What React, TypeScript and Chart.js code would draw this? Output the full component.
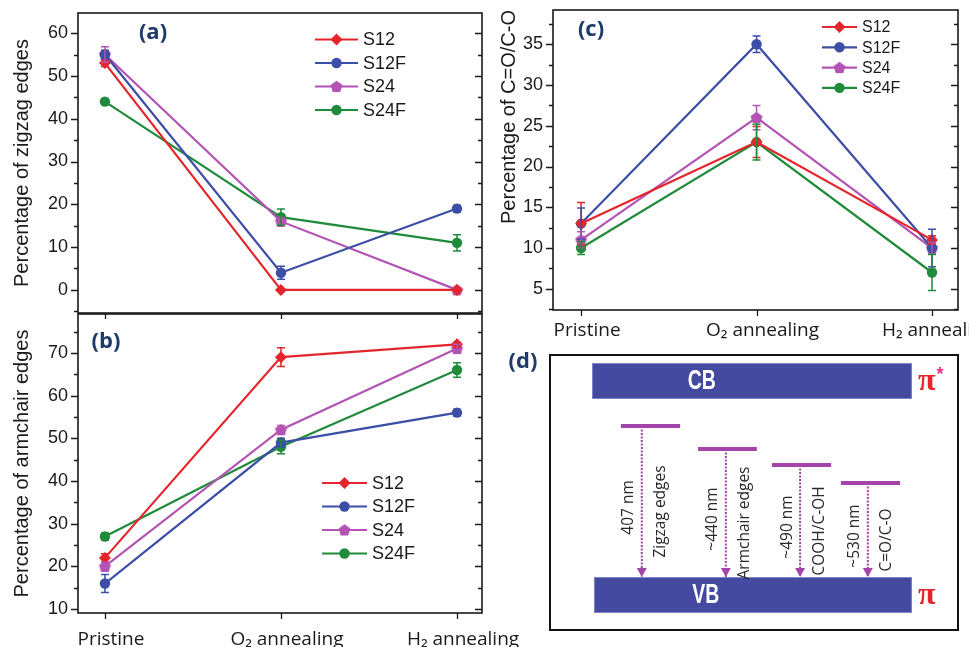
import React, { useEffect, useRef } from 'react';
import { Chart, registerables } from 'chart.js';

Chart.register(...registerables);

// ---------------- data ----------------
const categories = ['Pristine', 'O₂ annealing', 'H₂ annealing'];
const seriesNames = ['S12', 'S12F', 'S24', 'S24F'];
const seriesColors = ['#e4262c', '#3d4ea6', '#b353b3', '#1f8b3b'];
const seriesMarkers = ['diamond', 'circle', 'pentagon', 'circle'];

// (a) zigzag edges (%)
const zigzagS12 = [53, 0, 0];
const zigzagS12F = [55, 4, 19];
const zigzagS24 = [55, 16, 0];
const zigzagS24F = [44, 17, 11];
const zigzagErrS12 = [0.8, 0, 0];
const zigzagErrS12F = [1, 1.5, 0.8];
const zigzagErrS24 = [1.8, 0.8, 0];
const zigzagErrS24F = [0.5, 1.9, 1.9];

// (b) armchair edges (%)
const armchairS12 = [22, 69, 72];
const armchairS12F = [16, 49, 56];
const armchairS24 = [20, 52, 71];
const armchairS24F = [27, 48, 66];
const armchairErrS12 = [1, 2.2, 0.5];
const armchairErrS12F = [2.1, 1, 0.8];
const armchairErrS24 = [1, 1, 1];
const armchairErrS24F = [0.8, 1.6, 1.7];

// (c) C=O/C-O (%)
const oxygenS12 = [13, 23, 11];
const oxygenS12F = [13, 35, 10];
const oxygenS24 = [11, 26, 10];
const oxygenS24F = [10, 23, 7];
const oxygenErrS12 = [2.6, 1.9, 0.5];
const oxygenErrS12F = [1.9, 1, 2.3];
const oxygenErrS24 = [1, 1.5, 0.7];
const oxygenErrS24F = [0.8, 2.2, 2.2];

// axis ranges
const zigzagRange = [-5.4, 64.7];
const armchairRange = [9.1, 79.1];
const oxygenRange = [2.4, 39.2];

// (d) energy diagram
const bandNames = ['CB', 'VB'];
const bandOrbitals = ['π*', 'π'];
const bandBottom = [3.56, -0.72];
const bandTop = [4.28, 0];
const bandLeft = [1.03, 1.08];
const bandRight = [8.87, 8.87];
const bandLabelX = [3.72, 3.82];
const emissionWavelengths = ['407 nm', '~440 nm', '~490 nm', '~530 nm'];
const emissionOrigins = ['Zigzag edges', 'Armchair edges', 'COOH/C-OH', 'C=O/C-O'];
const levelEnergies = [3.02, 2.56, 2.24, 1.88];
const levelStart = [1.74, 3.63, 5.44, 7.13];
const levelEnd = [3.19, 5.07, 6.89, 8.58];
const transitionX = [2.25, 4.31, 6.13, 7.79];

// ---------------- styling ----------------
const INK = '#1a1a1a';
const LABEL_BLUE = '#1d3a6b';
const LEVEL_COLOR = '#a443aa';
const BAND_COLOR = '#434a9f';
const PI_RED = '#e3262b';

function makePentagon(color: string, r: number) {
  const size = Math.ceil(r * 2 + 2);
  const c = document.createElement('canvas');
  c.width = size;
  c.height = size;
  const ctx = c.getContext('2d')!;
  ctx.fillStyle = color;
  ctx.beginPath();
  for (let k = 0; k < 5; k++) {
    const a = -Math.PI / 2 + (k * 2 * Math.PI) / 5;
    const px = size / 2 + r * Math.cos(a);
    const py = size / 2 + 0.5 + r * Math.sin(a);
    if (k === 0) ctx.moveTo(px, py);
    else ctx.lineTo(px, py);
  }
  ctx.closePath();
  ctx.fill();
  return c;
}

function drawMarker(ctx: CanvasRenderingContext2D, kind: string, x: number, y: number, color: string, img: any) {
  if (kind === 'pentagon') {
    ctx.drawImage(img, x - img.width / 2, y - img.height / 2);
    return;
  }
  ctx.fillStyle = color;
  ctx.beginPath();
  if (kind === 'diamond') {
    const r = 6;
    ctx.moveTo(x, y - r);
    ctx.lineTo(x + r, y);
    ctx.lineTo(x, y + r);
    ctx.lineTo(x - r, y);
    ctx.closePath();
  } else {
    ctx.arc(x, y, 5.2, 0, Math.PI * 2);
  }
  ctx.fill();
}

type PanelSpec = {
  values: number[][];
  errors: number[][];
  range: number[];
  step: number;
  yTitle: string;
  titleAlign: string;
  titlePad: number;
  showX: boolean;
  xMin: number;
  xMax: number;
  padTop: number;
  padRight: number;
  yWidth: number;
  xHeight: number;
  xPad: number;
  legend: { x: number; y: number; dy: number; len: number; size: number };
  label: { text: string; x: number; y: number };
};

function framePlugin(spec: PanelSpec, pent: any) {
  return {
    id: 'frame',
    afterDatasetsDraw(chart: any) {
      const ctx: CanvasRenderingContext2D = chart.ctx;
      const { left, right, top, bottom } = chart.chartArea;
      const xs = chart.scales.x;
      const ys = chart.scales.y;
      ctx.save();
      // error bars
      spec.errors.forEach((errs, di) => {
        ctx.strokeStyle = seriesColors[di];
        ctx.lineWidth = 1.5;
        errs.forEach((e, j) => {
          if (!e) return;
          const v = spec.values[di][j];
          const x = xs.getPixelForValue(j);
          const y1 = ys.getPixelForValue(v + e);
          const y2 = ys.getPixelForValue(v - e);
          ctx.beginPath();
          ctx.moveTo(x, y1);
          ctx.lineTo(x, y2);
          ctx.moveTo(x - 4, y1);
          ctx.lineTo(x + 4, y1);
          ctx.moveTo(x - 4, y2);
          ctx.lineTo(x + 4, y2);
          ctx.stroke();
        });
      });
      // frame box
      ctx.strokeStyle = INK;
      ctx.lineWidth = 1.6;
      ctx.strokeRect(left, top, right - left, bottom - top);
      // y ticks major + minor, left outward, right inward
      ctx.lineWidth = 1.3;
      const half = spec.step / 2;
      const [mn, mx] = spec.range;
      ctx.beginPath();
      for (let v = Math.ceil(mn / half) * half; v <= mx + 1e-9; v += half) {
        const y = Math.round(ys.getPixelForValue(v)) + 0.5;
        const major = Math.abs(v / spec.step - Math.round(v / spec.step)) < 1e-6;
        const len = major ? 7 : 4;
        ctx.moveTo(left - len, y);
        ctx.lineTo(left, y);
        ctx.moveTo(right, y);
        ctx.lineTo(right - len, y);
      }
      // x ticks at categories
      for (let j = 0; j < categories.length; j++) {
        const x = Math.round(xs.getPixelForValue(j)) + 0.5;
        ctx.moveTo(x, bottom);
        ctx.lineTo(x, bottom + 6);
      }
      ctx.stroke();
      // legend
      const lg = spec.legend;
      ctx.font = `${lg.size}px "Liberation Sans", Arial, sans-serif`;
      ctx.textBaseline = 'middle';
      ctx.textAlign = 'left';
      seriesNames.forEach((name, i) => {
        const y = lg.y + i * lg.dy;
        ctx.strokeStyle = seriesColors[i];
        ctx.lineWidth = 2.2;
        ctx.beginPath();
        ctx.moveTo(lg.x, y);
        ctx.lineTo(lg.x + lg.len, y);
        ctx.stroke();
        drawMarker(ctx, seriesMarkers[i], lg.x + lg.len / 2, y, seriesColors[i], pent);
        ctx.fillStyle = INK;
        ctx.fillText(name, lg.x + lg.len + 5, y + 1);
      });
      // panel label
      ctx.font = 'bold 22px "Open Sans", sans-serif';
      ctx.fillStyle = LABEL_BLUE;
      ctx.textAlign = 'center';
      ctx.fillText(spec.label.text, spec.label.x, spec.label.y);
      ctx.restore();
    },
  };
}

function niceTicks(min: number, max: number, step: number) {
  const out: { value: number }[] = [];
  for (let v = Math.ceil(min / step - 1e-9) * step; v <= max + 1e-9; v += step) {
    out.push({ value: Math.round(v * 1000) / 1000 });
  }
  return out;
}

function makePanelConfig(spec: PanelSpec, pent: any) {
  const pointStyles: any[] = ['rectRot', 'circle', pent, 'circle'];
  const radii = [6, 5.2, 6, 5.2];
  return {
    type: 'line',
    data: {
      datasets: spec.values.map((vals, i) => ({
        label: seriesNames[i],
        data: vals.map((v, j) => ({ x: j, y: v })),
        borderColor: seriesColors[i],
        backgroundColor: seriesColors[i],
        borderWidth: 2.2,
        pointStyle: pointStyles[i],
        pointRadius: radii[i],
        pointBorderWidth: 0,
        pointBackgroundColor: seriesColors[i],
        tension: 0,
        clip: false,
      })),
    },
    options: {
      animation: false,
      responsive: false,
      events: [],
      layout: { padding: { top: spec.padTop, right: spec.padRight, left: 0, bottom: 0 } },
      plugins: { legend: { display: false }, tooltip: { enabled: false } },
      scales: {
        x: {
          type: 'linear',
          min: spec.xMin,
          max: spec.xMax,
          grid: { display: false, drawTicks: false },
          border: { display: false },
          afterBuildTicks: (s: any) => {
            s.ticks = categories.map((_, j) => ({ value: j }));
          },
          ticks: {
            display: spec.showX,
            autoSkip: false,
            maxRotation: 0,
            padding: spec.xPad,
            labelOffset: 6,
            color: INK,
            font: { family: '"Open Sans", sans-serif', size: 19 },
            callback: (v: number) => categories[v] ?? '',
          },
          afterFit: (s: any) => {
            s.height = spec.xHeight;
            s.paddingLeft = 0;
            s.paddingRight = 0;
          },
        },
        y: {
          type: 'linear',
          min: spec.range[0],
          max: spec.range[1],
          grid: { display: false, drawTicks: false },
          border: { display: false },
          afterBuildTicks: (s: any) => {
            s.ticks = niceTicks(spec.range[0], spec.range[1], spec.step);
          },
          ticks: {
            padding: 10,
            color: INK,
            font: { family: '"Liberation Sans", Arial, sans-serif', size: 18 },
            callback: (v: number) => String(v),
          },
          title: {
            display: true,
            text: spec.yTitle,
            align: spec.titleAlign,
            color: INK,
            padding: { top: spec.titlePad, bottom: 0 },
            font: { family: '"Liberation Sans", Arial, sans-serif', size: 20 },
          },
          afterFit: (s: any) => {
            s.width = spec.yWidth;
            s.paddingTop = 0;
            s.paddingBottom = 0;
          },
        },
      },
    },
    plugins: [framePlugin(spec, pent)],
  };
}

const energyPlugin = {
  id: 'energy',
  beforeDatasetsDraw(chart: any) {
    const ctx: CanvasRenderingContext2D = chart.ctx;
    const { left, right, top, bottom } = chart.chartArea;
    const xs = chart.scales.x;
    const ys = chart.scales.y;
    ctx.save();
    ctx.strokeStyle = '#111';
    ctx.lineWidth = 2;
    ctx.strokeRect(left, top, right - left, bottom - top);
    bandNames.forEach((name, i) => {
      const x1 = xs.getPixelForValue(bandLeft[i]);
      const x2 = xs.getPixelForValue(bandRight[i]);
      const y1 = ys.getPixelForValue(bandTop[i]);
      const y2 = ys.getPixelForValue(bandBottom[i]);
      ctx.fillStyle = BAND_COLOR;
      ctx.fillRect(x1, y1, x2 - x1, y2 - y1);
      ctx.strokeStyle = '#8086c8';
      ctx.lineWidth = 1;
      ctx.strokeRect(x1 + 0.5, y1 + 0.5, x2 - x1 - 1, y2 - y1 - 1);
      // band name, condensed bold
      const cx = xs.getPixelForValue(bandLabelX[i]);
      const cy = (y1 + y2) / 2;
      ctx.save();
      ctx.translate(cx, cy + 1);
      ctx.scale(0.72, 1);
      ctx.font = 'bold 27px "Liberation Sans", Arial, sans-serif';
      ctx.fillStyle = '#ffffff';
      ctx.textAlign = 'center';
      ctx.textBaseline = 'middle';
      ctx.fillText(name, 0, 0);
      ctx.restore();
      // orbital symbol
      const sym = bandOrbitals[i];
      ctx.font = 'bold 32px "Liberation Serif", "DejaVu Serif", serif';
      ctx.fillStyle = PI_RED;
      ctx.textAlign = 'left';
      ctx.textBaseline = 'middle';
      ctx.fillText(sym.charAt(0), x2 + 6, cy + 1);
      if (sym.length > 1) {
        const w = ctx.measureText(sym.charAt(0)).width;
        ctx.font = 'bold 18px "Liberation Sans", Arial, sans-serif';
        ctx.fillStyle = '#e8308a';
        ctx.fillText(sym.slice(1), x2 + 7 + w, y1 + 12);
      }
    });
    ctx.restore();
  },
  afterDatasetsDraw(chart: any) {
    const ctx: CanvasRenderingContext2D = chart.ctx;
    const { left, top } = chart.chartArea;
    const xs = chart.scales.x;
    const ys = chart.scales.y;
    ctx.save();
    const vbTop = ys.getPixelForValue(bandTop[1]);
    transitionX.forEach((tx, i) => {
      const x = xs.getPixelForValue(tx);
      // arrow head
      ctx.fillStyle = LEVEL_COLOR;
      ctx.beginPath();
      ctx.moveTo(x, vbTop);
      ctx.lineTo(x - 5, vbTop - 9);
      ctx.lineTo(x + 5, vbTop - 9);
      ctx.closePath();
      ctx.fill();
      const lvl = ys.getPixelForValue(levelEnergies[i]);
      const cy = (lvl + vbTop) / 2 + 6;
      ctx.font = '15.5px "Open Sans", sans-serif';
      ctx.fillStyle = '#2a2a2a';
      ctx.textAlign = 'center';
      ctx.textBaseline = 'middle';
      ctx.save();
      ctx.translate(x - 13, cy);
      ctx.rotate(-Math.PI / 2);
      ctx.fillText(emissionWavelengths[i], 0, 0);
      ctx.restore();
      ctx.save();
      ctx.translate(x + 19, cy + 4);
      ctx.rotate(-Math.PI / 2);
      ctx.fillText(emissionOrigins[i], 0, 0);
      ctx.restore();
    });
    ctx.font = 'bold 22px "Open Sans", sans-serif';
    ctx.fillStyle = LABEL_BLUE;
    ctx.textAlign = 'center';
    ctx.textBaseline = 'middle';
    ctx.fillText('(d)', left - 27, top + 7);
    ctx.restore();
  },
};

function makeEnergyConfig() {
  const levelSets = levelEnergies.map((e, i) => ({
    label: 'level ' + emissionOrigins[i],
    data: [
      { x: levelStart[i], y: e },
      { x: levelEnd[i], y: e },
    ],
    borderColor: LEVEL_COLOR,
    borderWidth: 4,
    pointRadius: 0,
    borderCapStyle: 'butt',
  }));
  const arrowSets = levelEnergies.map((e, i) => ({
    label: 'transition ' + emissionWavelengths[i],
    data: [
      { x: transitionX[i], y: e },
      { x: transitionX[i], y: bandTop[1] },
    ],
    borderColor: LEVEL_COLOR,
    borderWidth: 2,
    borderDash: [2, 1.5],
    pointRadius: 0,
  }));
  return {
    type: 'line',
    data: { datasets: [...levelSets, ...arrowSets] },
    options: {
      animation: false,
      responsive: false,
      events: [],
      layout: { padding: { left: 50, top: 15, right: 11, bottom: 17 } },
      plugins: { legend: { display: false }, tooltip: { enabled: false } },
      scales: {
        x: { type: 'linear', min: 0, max: 10, display: false },
        y: { type: 'linear', min: -1.06, max: 4.44, display: false },
      },
      elements: { line: { tension: 0 } },
    },
    plugins: [energyPlugin],
  };
}

export default function App() {
  const refA = useRef<HTMLCanvasElement>(null);
  const refB = useRef<HTMLCanvasElement>(null);
  const refC = useRef<HTMLCanvasElement>(null);
  const refD = useRef<HTMLCanvasElement>(null);

  useEffect(() => {
    const pent = makePentagon(seriesColors[2], 6.3);
    const specA: PanelSpec = {
      values: [zigzagS12, zigzagS12F, zigzagS24, zigzagS24F],
      errors: [zigzagErrS12, zigzagErrS12F, zigzagErrS24, zigzagErrS24F],
      range: zigzagRange,
      step: 10,
      yTitle: 'Percentage of zigzag edges',
      titleAlign: 'center',
      titlePad: 10,
      showX: false,
      xMin: -0.153,
      xMax: 2.142,
      padTop: 13,
      padRight: 18,
      yWidth: 78,
      xHeight: 7,
      xPad: 0,
      legend: { x: 315, y: 39.5, dy: 23.5, len: 43, size: 18 },
      label: { text: '(a)', x: 153, y: 33 },
    };
    const specB: PanelSpec = {
      values: [armchairS12, armchairS12F, armchairS24, armchairS24F],
      errors: [armchairErrS12, armchairErrS12F, armchairErrS24, armchairErrS24F],
      range: armchairRange,
      step: 10,
      yTitle: 'Percentage of armchair edges',
      titleAlign: 'center',
      titlePad: 10,
      showX: true,
      xMin: -0.153,
      xMax: 2.142,
      padTop: 14,
      padRight: 48,
      yWidth: 78,
      xHeight: 34,
      xPad: 15,
      legend: { x: 322, y: 183, dy: 23.5, len: 45, size: 18 },
      label: { text: '(b)', x: 106, y: 42 },
    };
    const specC: PanelSpec = {
      values: [oxygenS12, oxygenS12F, oxygenS24, oxygenS24F],
      errors: [oxygenErrS12, oxygenErrS12F, oxygenErrS24, oxygenErrS24F],
      range: oxygenRange,
      step: 5,
      yTitle: 'Percentage of C=O/C-O',
      titleAlign: 'end',
      titlePad: 2,
      showX: true,
      xMin: -0.16,
      xMax: 2.148,
      padTop: 10,
      padRight: 11,
      yWidth: 58,
      xHeight: 35,
      xPad: 9,
      legend: { x: 327, y: 27, dy: 20.3, len: 35, size: 16 },
      label: { text: '(c)', x: 96, y: 30 },
    };
    const charts = [
      new Chart(refA.current!, makePanelConfig(specA, pent) as any),
      new Chart(refB.current!, makePanelConfig(specB, pent) as any),
      new Chart(refC.current!, makePanelConfig(specC, pent) as any),
      new Chart(refD.current!, makeEnergyConfig() as any),
    ];
    return () => charts.forEach((c) => c.destroy());
  }, []);

  const abs = (l: number, t: number): React.CSSProperties => ({ position: 'absolute', left: l, top: t });
  return (
    <div style={{ position: 'absolute', left: 0, top: 0, width: 969, height: 647, background: '#fff', overflow: 'hidden' }}>
      <canvas ref={refA} width={500} height={320} style={abs(0, 0)} />
      <canvas ref={refB} width={530} height={347} style={abs(0, 300)} />
      <canvas ref={refC} width={474} height={345} style={abs(495, 0)} />
      <canvas ref={refD} width={469} height={307} style={abs(500, 340)} />
    </div>
  );
}
